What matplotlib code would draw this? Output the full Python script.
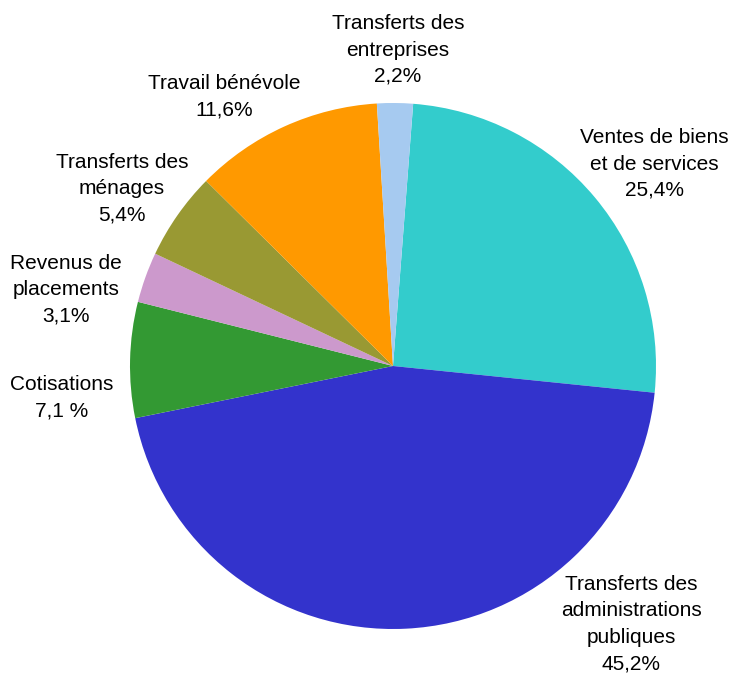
import matplotlib
matplotlib.use('Agg')
import matplotlib.pyplot as plt

# slices, clockwise from the top
labels = ['Ventes de biens\net de services\n25,4%',
          'Transferts des\nadministrations\npubliques\n45,2%',
          'Cotisations\n7,1 %',
          'Revenus de\nplacements\n3,1%',
          'Transferts des\nménages\n5,4%',
          'Travail bénévole\n11,6%',
          'Transferts des\nentreprises\n2,2%']
shares = [25.4, 45.2, 7.1, 3.1, 5.4, 11.6, 2.2]
colors = ['#33CCCC', '#3333CC', '#339933', '#CC99CC', '#999933', '#FF9900', '#A6CAF0']

# label centres in pixels of the original picture
label_px = [(654, 164), (631, 624), (62, 398), (66, 290), (122, 189), (224, 97), (398, 50)]

W, H = 733, 677
cx, cy, R = 393, 366, 263

fig = plt.figure(figsize=(W / 100, H / 100), dpi=100)
ax = fig.add_axes([0, 0, 1, 1])
ax.pie(shares, colors=colors, startangle=85.6, counterclock=False,
       radius=1, wedgeprops=dict(linewidth=0))
ax.set_xlim(-cx / R, (W - cx) / R)
ax.set_ylim(-(H - cy) / R, cy / R)
ax.set_aspect('auto')
ax.axis('off')

for lab, (px, py) in zip(labels, label_px):
    ax.text((px - cx) / R, (cy - py) / R, lab, ha='center', va='center',
            fontsize=15, family='Liberation Sans', linespacing=1.5)

fig.savefig('out.png', dpi=100)
